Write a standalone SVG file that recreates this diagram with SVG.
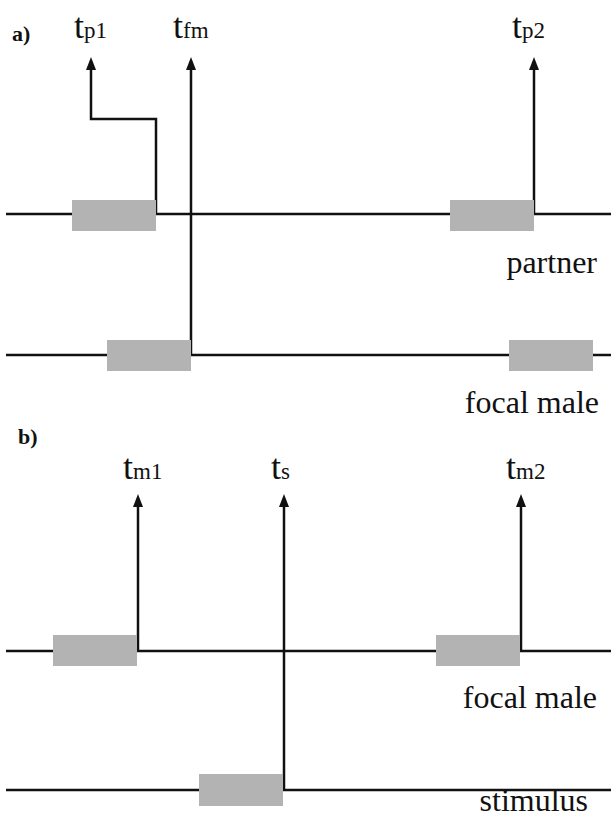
<svg xmlns="http://www.w3.org/2000/svg" width="611" height="819" viewBox="0 0 611 819">
<defs>
<marker id="ah" markerUnits="userSpaceOnUse" markerWidth="14" markerHeight="12" refX="2" refY="5" orient="auto">
<path d="M0,0 L13,5 L0,10 z" fill="#111"/>
</marker>
<style>
.ln{stroke:#111;stroke-width:2.5;fill:none}
.ar{stroke:#111;stroke-width:2.5;fill:none;marker-end:url(#ah)}
.bx{fill:#b3b3b3}
.t{font-family:"Liberation Serif","Times New Roman",serif;fill:#111}
.big{font-size:36px}
.sub{font-size:23px}
.lab{font-size:32px}
.pn{font-size:22px;font-weight:bold}
</style>
</defs>
<rect width="611" height="819" fill="#fff"/>
<g id="timelines">
<line class="ln" x1="6" y1="214" x2="611" y2="214"/>
<line class="ln" x1="6" y1="355" x2="611" y2="355"/>
<line class="ln" x1="6" y1="651" x2="611" y2="651"/>
<line class="ln" x1="6" y1="790" x2="611" y2="790"/>
</g>
<g id="connectors">
<path class="ar" d="M156,214 V119 H91 V68"/>
<path class="ar" d="M191,355 V68"/>
<path class="ar" d="M534,214 V68"/>
<path class="ar" d="M138,651 V505"/>
<path class="ar" d="M284,790 V505"/>
<path class="ar" d="M521,651 V505"/>
</g>
<g id="box-a1"><rect class="bx" x="72" y="200" width="84" height="31"/></g>
<g id="box-a2"><rect class="bx" x="450" y="200" width="84" height="31"/></g>
<g id="box-a3"><rect class="bx" x="107" y="340" width="84" height="31"/></g>
<g id="box-a4"><rect class="bx" x="509" y="340" width="84" height="31"/></g>
<g id="box-b1"><rect class="bx" x="53" y="635" width="84" height="31"/></g>
<g id="box-b2"><rect class="bx" x="436" y="635" width="84" height="31"/></g>
<g id="box-b3"><rect class="bx" x="199" y="774" width="84" height="32"/></g>
<g id="labels">
<text class="t pn" x="12" y="41">a)</text>
<text class="t pn" x="18" y="444">b)</text>
<text class="t big" x="74" y="38">t<tspan class="sub">p1</tspan></text>
<text class="t big" x="173" y="38">t<tspan class="sub">fm</tspan></text>
<text class="t big" x="512" y="38">t<tspan class="sub">p2</tspan></text>
<text class="t big" x="123" y="479">t<tspan class="sub">m1</tspan></text>
<text class="t big" x="271" y="479">t<tspan class="sub">s</tspan></text>
<text class="t big" x="506" y="479">t<tspan class="sub">m2</tspan></text>
<text class="t lab" x="597" y="273" text-anchor="end">partner</text>
<text class="t lab" x="599" y="413" text-anchor="end">focal male</text>
<text class="t lab" x="597" y="708" text-anchor="end">focal male</text>
<text class="t lab" x="588" y="811" text-anchor="end">stimulus</text>
</g>
</svg>
